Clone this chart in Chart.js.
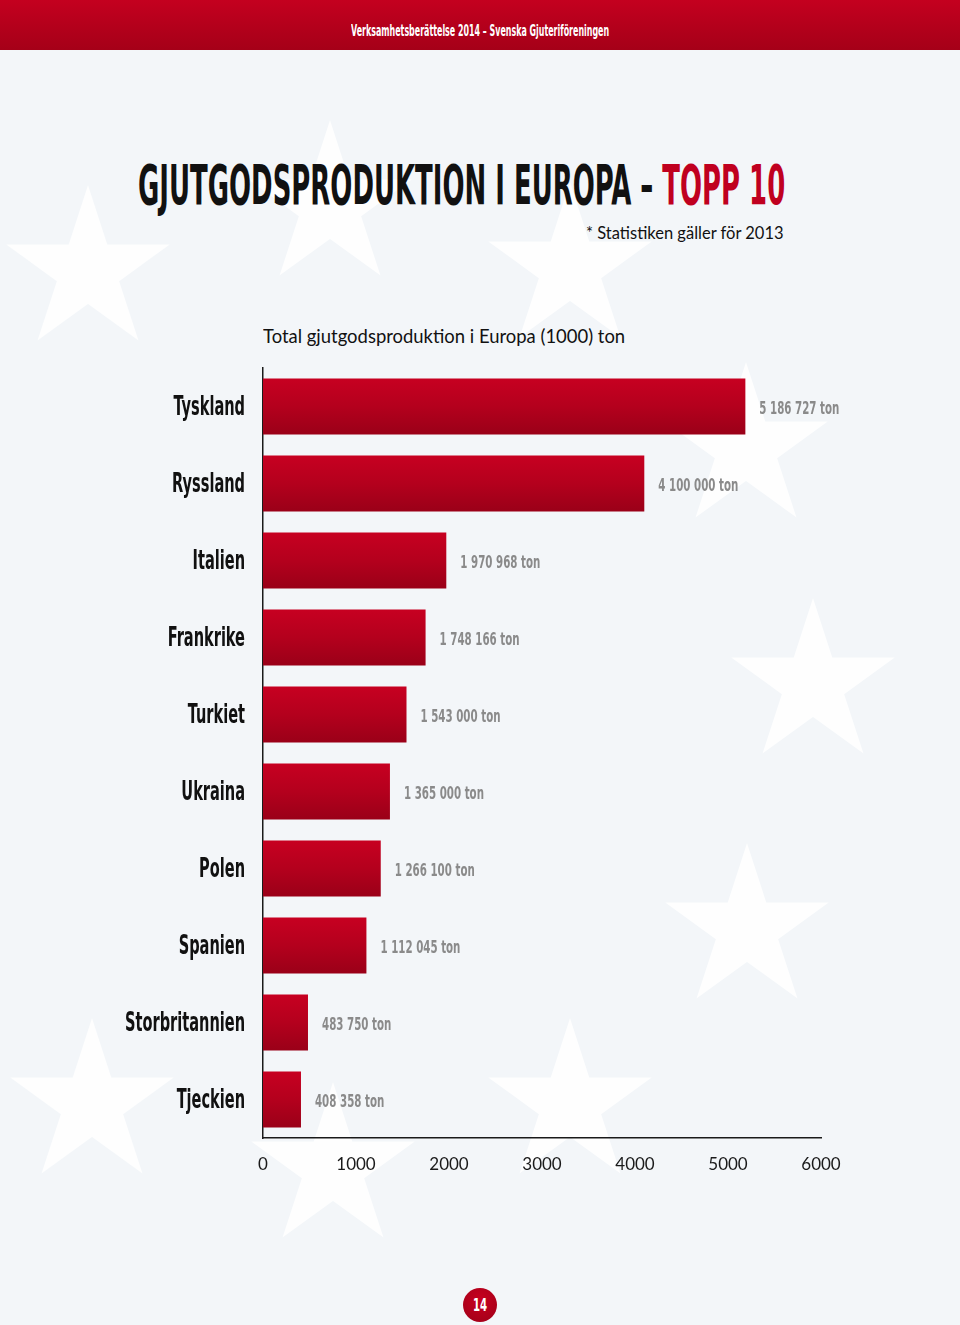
<!DOCTYPE html>
<html><head><meta charset="utf-8">
<script src="https://cdn.jsdelivr.net/npm/chart.js@4.4.1/dist/chart.umd.min.js"></script>
<style>
html,body{margin:0;padding:0;}
body{width:960px;height:1325px;background:#f3f6f9;position:relative;overflow:hidden;font-family:Lato,'Open Sans',sans-serif;}
#stars{position:absolute;left:0;top:0;}
#header{position:absolute;left:0;top:0;width:960px;height:50px;background:linear-gradient(#c4001f,#a50018);}
.fit{position:absolute;white-space:nowrap;transform-origin:0 0;}
.cond{font-family:'Liberation Sans Narrow','DejaVu Sans Condensed',Roboto,sans-serif;font-weight:bold;}
#c{position:absolute;left:0;top:0;}
#pg{position:absolute;left:463px;top:1288px;width:34px;height:34px;border-radius:50%;background:radial-gradient(circle at 50% 35%,#c8001f,#9e0018);}
</style></head><body>
<svg id="stars" width="960" height="1325"></svg>
<div id="header"></div>
<div class="fit cond" data-cx="480" data-w="258" style="top:24px;font-size:15px;line-height:15px;color:#fff;">Verksamhetsberättelse 2014 – Svenska Gjuteriföreningen</div>
<div class="fit cond" data-x="138" data-w="647" style="top:157px;font-size:56px;line-height:56px;color:#111;font-weight:bold;">GJUTGODSPRODUKTION I EUROPA – <span style="color:#c0001f">TOPP 10</span></div>
<div class="fit" data-r="784" data-w="198" style="top:223px;font-size:17px;line-height:20px;color:#111;">* Statistiken gäller för 2013</div>
<div class="fit" data-x="263" data-w="362" style="top:325px;font-size:19px;line-height:22px;color:#111;">Total gjutgodsproduktion i Europa (1000) ton</div>
<div id="pg"></div>
<div class="fit cond" data-cx="480" data-w="14" style="top:1297px;font-size:17px;line-height:17px;color:#fff;">14</div>
<canvas id="c" width="960" height="1325"></canvas>
<script>
// ---- data ----
const categories = ['Tyskland','Ryssland','Italien','Frankrike','Turkiet','Ukraina','Polen','Spanien','Storbritannien','Tjeckien'];
const production = [5186.727, 4100, 1970.968, 1748.166, 1543, 1365, 1266.1, 1112.045, 483.75, 408.358]; // (1000) ton
const xTicks = [0, 1000, 2000, 3000, 4000, 5000, 6000];
const unit = 'ton';

// ---- background stars ----
const starCenters = [[330,206],[88,271],[570,268],[746,448],[813,684],[747,929],[92,1104],[333,1168],[570,1104]];
(function(){
  const svg = document.getElementById('stars');
  const R = 86, r = R * 0.382;
  let s = '';
  starCenters.forEach(([cx, cy]) => {
    const pts = [];
    for (let k = 0; k < 10; k++) {
      const a = -Math.PI/2 + k * Math.PI/5;
      const rr = k % 2 ? r : R;
      pts.push((cx + rr*Math.cos(a)).toFixed(1) + ',' + (cy + rr*Math.sin(a)).toFixed(1));
    }
    s += '<polygon points="' + pts.join(' ') + '" fill="#ffffff" fill-opacity="0.85"/>';
  });
  svg.innerHTML = s;
})();

// ---- fit HTML texts ----
document.querySelectorAll('.fit').forEach(el => {
  const w = el.offsetWidth, tw = +el.dataset.w, sx = tw / w;
  el.style.transform = 'scaleX(' + sx + ')';
  if (el.dataset.x) el.style.left = el.dataset.x + 'px';
  if (el.dataset.r) el.style.left = (+el.dataset.r - tw) + 'px';
  if (el.dataset.cx) el.style.left = (+el.dataset.cx - tw/2) + 'px';
});

const CAT_FONT = "bold 26px 'Liberation Sans Narrow','DejaVu Sans Condensed',Roboto,sans-serif";
const VAL_FONT = "bold 18px 'Liberation Sans Narrow','DejaVu Sans Condensed',Roboto,sans-serif";
const BAR_PCT = 0.727;

function fmt(v) {
  return String(Math.round(v * 1000)).replace(/\B(?=(\d{3})+(?!\d))/g, ' ') + ' ' + unit;
}

const labelsPlugin = {
  id: 'labelsPlugin',
  afterDraw(chart) {
    const ctx = chart.ctx, ys = chart.scales.y;
    ctx.save();
    ctx.font = CAT_FONT;
    const sxc = 120 / ctx.measureText('Storbritannien').width;
    ctx.fillStyle = '#111';
    ctx.textAlign = 'right';
    ctx.textBaseline = 'middle';
    categories.forEach((c, i) => {
      const y = ys.getPixelForValue(i);
      ctx.save(); ctx.translate(ys.right - 18, y + 2); ctx.scale(sxc, 1); ctx.fillText(c, 0, 0); ctx.restore();
    });
    ctx.font = VAL_FONT;
    const sxv = 80 / ctx.measureText(fmt(production[0])).width;
    ctx.fillStyle = '#8a8a8a';
    ctx.textAlign = 'left';
    const meta = chart.getDatasetMeta(0);
    meta.data.forEach((el, i) => {
      ctx.save(); ctx.translate(el.x + 14, el.y + 3); ctx.scale(sxv, 1); ctx.fillText(fmt(production[i]), 0, 0); ctx.restore();
    });
    ctx.restore();
  }
};

new Chart(document.getElementById('c'), {
  type: 'bar',
  data: {
    labels: categories,
    datasets: [{
      data: production,
      borderWidth: 0,
      barPercentage: BAR_PCT,
      categoryPercentage: 1,
      backgroundColor: (ctx) => {
        const chart = ctx.chart, ys = chart.scales && chart.scales.y;
        if (!ys || ctx.dataIndex === undefined) return '#b3001c';
        const yc = ys.getPixelForValue(ctx.dataIndex);
        const h = (ys.bottom - ys.top) / categories.length * BAR_PCT;
        if (!Number.isFinite(yc) || !Number.isFinite(h) || h <= 0) return '#b3001c';
        const g = chart.ctx.createLinearGradient(0, yc - h/2, 0, yc + h/2);
        g.addColorStop(0, '#c70021');
        g.addColorStop(0.5, '#b4001d');
        g.addColorStop(1, '#9a0018');
        return g;
      }
    }]
  },
  options: {
    indexAxis: 'y',
    responsive: false,
    animation: false,
    devicePixelRatio: 1,
    layout: { padding: { top: 368, bottom: 147, left: 0, right: 139 } },
    plugins: { legend: { display: false }, tooltip: { enabled: false }, title: { display: false } },
    scales: {
      x: {
        min: 0, max: 6000,
        afterBuildTicks: (s) => { s.ticks = xTicks.map(v => ({ value: v })); },
        grid: { display: false, drawTicks: false },
        border: { display: true, color: '#1a1a1a', width: 1.5 },
        ticks: { color: '#1a1a1a', padding: 16, font: { family: "Lato, 'Open Sans', sans-serif", size: 17 }, maxRotation: 0,
                 callback: (v) => String(v) },
        afterFit: (s) => { s.height = 40; }
      },
      y: {
        grid: { display: false, drawTicks: false },
        border: { display: true, color: '#1a1a1a', width: 1.5 },
        ticks: { display: false },
        afterFit: (s) => { s.width = 263; }
      }
    }
  },
  plugins: [labelsPlugin]
});
</script>
</body></html>
